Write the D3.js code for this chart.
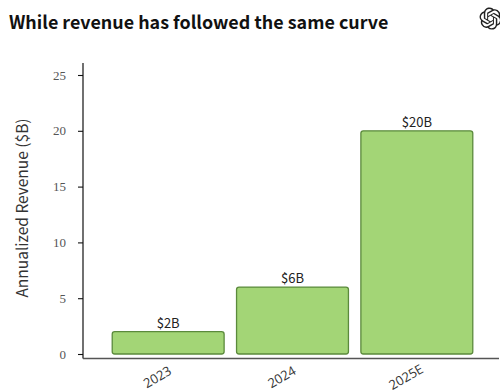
<!DOCTYPE html>
<html><head><meta charset="utf-8">
<script src="https://cdnjs.cloudflare.com/ajax/libs/d3/7.8.5/d3.min.js"></script>
<style>html,body{margin:0;padding:0;background:#fff}svg{display:block}</style>
</head><body><div id="chart"></div>
<script>
const categories = ["2023", "2024", "2025E"];
const revenue = [2, 6, 20];
const valueLabels = ["$2B", "$6B", "$20B"];
const yTicks = [0, 5, 10, 15, 20, 25];
const titleText = "While revenue has followed the same curve";
const yTitle = "Annualized Revenue ($B)";

const W = 500, H = 390;
const svg = d3.select("#chart").append("svg").attr("width", W).attr("height", H);
const sans = "'Noto Sans CJK JP','Noto Sans',sans-serif";

svg.append("text").attr("x", 9).attr("y", 29)
  .attr("font-family", sans).attr("font-weight", 700).attr("font-size", 17.9).attr("fill", "#111")
  .text(titleText);

// Plot scales
const y = d3.scaleLinear().domain([0, 25]).range([354, 75]);
const x = d3.scaleBand().domain(categories).range([106, 479]).paddingInner(0.1).paddingOuter(0.05);

// Bars
svg.append("g").selectAll("rect").data(revenue).join("rect")
  .attr("x", (d, i) => x(categories[i]))
  .attr("y", d => y(d))
  .attr("width", x.bandwidth())
  .attr("height", d => y(0) - y(d))
  .attr("rx", 2.5)
  .attr("fill", "#a3d576").attr("stroke", "#5b8a3c").attr("stroke-width", 1.3);

// Value labels above bars
svg.append("g").selectAll("text").data(revenue).join("text")
  .attr("x", (d, i) => x(categories[i]) + x.bandwidth() / 2)
  .attr("y", d => y(d) - 4)
  .attr("text-anchor", "middle")
  .attr("font-family", sans).attr("font-size", 13).attr("fill", "#222")
  .text((d, i) => valueLabels[i]);

// Y axis
const yAxis = svg.append("g").attr("transform", "translate(83,0)")
  .call(d3.axisLeft(y).tickValues(yTicks).tickSize(5).tickPadding(12));
yAxis.select(".domain").attr("d", "M0,63V358.5").attr("stroke", "#111").attr("stroke-width", 1.2);
yAxis.selectAll(".tick line").attr("stroke", "#111").attr("stroke-width", 1.1);
yAxis.selectAll(".tick text").attr("font-family", "'Liberation Serif',serif").attr("font-size", 13).attr("fill", "#555");

// X axis line
const xAxis = svg.append("g").attr("transform", "translate(0,358.5)")
  .call(d3.axisBottom(x).tickSize(0).tickPadding(0));
xAxis.select(".domain").attr("d", "M83,0H499").attr("stroke", "#555").attr("stroke-width", 1.3);
xAxis.selectAll(".tick text")
  .attr("font-family", "'Open Sans',sans-serif").attr("font-size", 13).attr("fill", "#333")
  .attr("text-anchor", "middle").attr("dy", 0)
  .attr("transform", "translate(-8.5,22.5) rotate(-30)");

// Y axis title
svg.append("text")
  .attr("transform", "translate(28,208) rotate(-90)")
  .attr("text-anchor", "middle")
  .attr("font-family", sans).attr("font-size", 15.5).attr("fill", "#333")
  .text(yTitle);

// Knot emblem in the top right corner
svg.append("path")
  .attr("transform", "translate(479.5,7.5) scale(0.92)")
  .attr("fill", "#222")
  .attr("d", "M22.2819 9.8211a5.9847 5.9847 0 0 0-.5157-4.9108 6.0462 6.0462 0 0 0-6.5098-2.9A6.0651 6.0651 0 0 0 4.9807 4.1818a5.9847 5.9847 0 0 0-3.9977 2.9 6.0462 6.0462 0 0 0 .7427 7.0966 5.98 5.98 0 0 0 .511 4.9107 6.051 6.051 0 0 0 6.5146 2.9001A5.9847 5.9847 0 0 0 13.2599 24a6.0557 6.0557 0 0 0 5.7718-4.2058 5.9894 5.9894 0 0 0 3.9977-2.9001 6.0557 6.0557 0 0 0-.7475-7.0729zm-9.022 12.6081a4.4755 4.4755 0 0 1-2.8764-1.0408l.1419-.0804 4.7783-2.7582a.7948.7948 0 0 0 .3927-.6813v-6.7369l2.02 1.1686a.071.071 0 0 1 .038.052v5.5826a4.504 4.504 0 0 1-4.4945 4.4944zm-9.6607-4.1254a4.4708 4.4708 0 0 1-.5346-3.0137l.142.0852 4.783 2.7582a.7712.7712 0 0 0 .7806 0l5.8428-3.3685v2.3324a.0804.0804 0 0 1-.0332.0615L9.74 19.9502a4.4992 4.4992 0 0 1-6.1408-1.6464zM2.3408 7.8956a4.485 4.485 0 0 1 2.3655-1.9728V11.6a.7664.7664 0 0 0 .3879.6765l5.8144 3.3543-2.0201 1.1685a.0757.0757 0 0 1-.071 0l-4.8303-2.7865A4.504 4.504 0 0 1 2.3408 7.872zm16.5963 3.8558L13.1038 8.364 15.1192 7.2a.0757.0757 0 0 1 .071 0l4.8303 2.7913a4.4944 4.4944 0 0 1-.6765 8.1042v-5.6772a.79.79 0 0 0-.407-.667zm2.0107-3.0231l-.142-.0852-4.7735-2.7818a.7759.7759 0 0 0-.7854 0L9.409 9.2297V6.8974a.0662.0662 0 0 1 .0284-.0615l4.8303-2.7866a4.4992 4.4992 0 0 1 6.6802 4.66zM8.3065 12.863l-2.02-1.1638a.0804.0804 0 0 1-.038-.0567V6.0742a4.4992 4.4992 0 0 1 7.3757-3.4537l-.142.0805L8.704 5.459a.7948.7948 0 0 0-.3927.6813zm1.0976-2.3654l2.602-1.4998 2.6069 1.4998v2.9994l-2.5974 1.4997-2.6067-1.4997Z");
</script></body></html>
